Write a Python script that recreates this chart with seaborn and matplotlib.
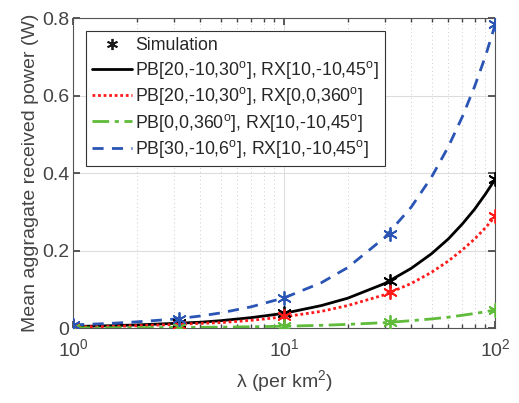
import numpy as np
import pandas as pd
import matplotlib
matplotlib.use("Agg")
import matplotlib.pyplot as plt
from matplotlib.lines import Line2D
import seaborn as sns

# lambda values for the analytical curves and the simulation points
lam_line = [1, 1.5, 2, 3, 4, 5, 7, 10, 15, 20, 30, 40, 50, 60, 70, 80, 90, 100]
lam_sim = [1, 3.16, 10, 31.6, 100]

black_line = [0.004, 0.006, 0.008, 0.012, 0.015, 0.019, 0.027, 0.038, 0.058,
              0.077, 0.115, 0.154, 0.192, 0.230, 0.269, 0.307, 0.346, 0.384]
red_line = [0.003, 0.004, 0.006, 0.009, 0.012, 0.014, 0.020, 0.029, 0.043,
            0.058, 0.086, 0.115, 0.144, 0.173, 0.202, 0.230, 0.259, 0.288]
green_line = [0.0005, 0.0007, 0.0009, 0.0014, 0.0019, 0.0024, 0.0033, 0.0047, 0.007,
              0.0094, 0.014, 0.019, 0.0235, 0.028, 0.033, 0.0376, 0.042, 0.047]
blue_line = [0.008, 0.012, 0.016, 0.023, 0.031, 0.039, 0.055, 0.078, 0.117,
             0.156, 0.234, 0.312, 0.390, 0.468, 0.546, 0.624, 0.702, 0.783]

black_sim = [0.004, 0.012, 0.038, 0.121, 0.384]
red_sim = [0.003, 0.009, 0.031, 0.093, 0.288]
green_sim = [0.0005, 0.0015, 0.0047, 0.0147, 0.047]
blue_sim = [0.008, 0.024, 0.077, 0.242, 0.785]

labels = [r"PB[20,-10,30$^\mathregular{o}$], RX[10,-10,45$^\mathregular{o}$]",
          r"PB[20,-10,30$^\mathregular{o}$], RX[0,0,360$^\mathregular{o}$]",
          r"PB[0,0,360$^\mathregular{o}$], RX[10,-10,45$^\mathregular{o}$]",
          r"PB[30,-10,6$^\mathregular{o}$], RX[10,-10,45$^\mathregular{o}$]"]

colors = ["#000000", "#ff1a1a", "#5fbb3a", "#2a55b5"]
styles = ["-", (0, (1, 1)), (0, (6, 2, 1.5, 2)), (0, (4, 3))]
lines = [black_line, red_line, green_line, blue_line]
sims = [black_sim, red_sim, green_sim, blue_sim]

sns.set_theme(style="ticks")
plt.rcParams["font.family"] = ["Liberation Sans", "DejaVu Sans"]
plt.rcParams["mathtext.fontset"] = "custom"
plt.rcParams["mathtext.rm"] = "Liberation Sans"
plt.rcParams["mathtext.it"] = "Liberation Sans"

fig = plt.figure(figsize=(5.19, 4.03), dpi=100)
ax = fig.add_axes([0.141, 0.186, 0.813, 0.769])

gc = "#444444"
for y, c, ls in zip(lines, colors, styles):
    sns.lineplot(x=lam_line, y=y, color=c, linestyle=ls, lw=2, ax=ax)
for y, c in zip(sims, colors):
    sns.scatterplot(x=lam_sim, y=y, marker=(6, 2, 0), s=90, color=c,
                    edgecolor=c, linewidth=1.3, ax=ax, zorder=5)

ax.set_xscale("log")
ax.set_xlim(1, 100)
ax.set_ylim(0, 0.8)
ax.set_yticks([0, 0.2, 0.4, 0.6, 0.8])
ax.set_yticklabels(["0", "0.2", "0.4", "0.6", "0.8"])

ax.grid(True, which="major", color="#dddddd", lw=0.8)
ax.grid(True, which="minor", axis="x", color="#cccccc", lw=0.7, ls=(0, (1, 3)))
ax.set_axisbelow(True)
ax.tick_params(which="both", direction="in", top=True, right=True,
               colors=gc, labelsize=14)
ax.tick_params(axis="x", which="major", pad=7)
ax.tick_params(axis="y", which="major", pad=3)
ax.tick_params(which="major", length=5)
ax.tick_params(which="minor", length=3)
for s in ax.spines.values():
    s.set_color("#555555")
    s.set_linewidth(0.8)

ax.set_xlabel(r"$\lambda$ (per km$^\mathregular{2}$)", fontsize=14, color=gc,
              labelpad=6)
ax.set_ylabel("Mean aggragate received power (W)", fontsize=14, color=gc,
              labelpad=2)

handles = [Line2D([], [], ls="", marker=(6, 2, 0), color="k", ms=8, mew=1.3)]
for c, ls in zip(colors, styles):
    handles.append(Line2D([], [], color=c, ls=ls, lw=2))
leg = ax.legend(handles, ["Simulation"] + labels, loc="upper left",
                bbox_to_anchor=(0.031, 0.958), fontsize=12.8, frameon=True,
                fancybox=False, edgecolor="#333333", framealpha=1,
                handlelength=2.2, handletextpad=0.2, borderpad=0.35,
                labelspacing=0.25, borderaxespad=0)
leg.get_frame().set_linewidth(0.8)

fig.savefig("out.png", dpi=100)
